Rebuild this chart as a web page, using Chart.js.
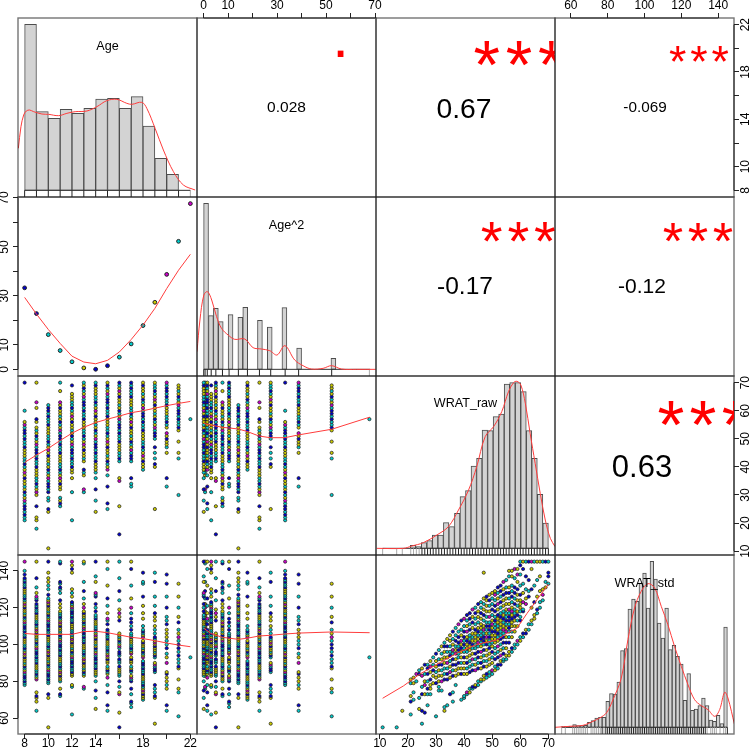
<!DOCTYPE html>
<html><head><meta charset="utf-8">
<script src="https://cdn.jsdelivr.net/npm/chart.js@4"></script>
<style>html,body{margin:0;padding:0;background:#fff;width:750px;height:750px;overflow:hidden}canvas{position:absolute}</style>
</head><body>
<script>
// ---------- data ----------
const ages=[8,9,10,11,12,13,14,15,16,17,18,19,20,21,22];
const agesSquared=[33.3,22.8,14.2,7.7,3.1,0.6,0.05,1.5,5,10.4,17.9,27.4,38.8,52.3,67.7];
const agesSquaredColors=['b','b','c','c','c','y','b','b','c','c','c','y','m','c','m'];

const rawByAge=[
[21,22,23,24,25,26,27,28,29,30,31,32,33,34,35,36,37,38,39,40,41,42,43,44,45,46,47,48,49,50,51,52,53,54,55,56,60,70],
[18,21,22,26,30,31,32,33,34,35,36,37,38,39,40,41,42,43,44,45,46,47,48,49,50,51,52,53,54,56,57,61,63,70],
[11,24,25,28,29,31,32,33,34,35,36,37,38,39,40,41,42,43,44,45,46,47,48,49,50,51,52,53,54,55,56,57,58,59,60,61,62],
[26,27,28,29,32,33,34,35,36,37,38,39,40,41,42,43,44,45,46,47,48,49,50,51,52,53,54,55,56,57,58,59,60,61,62,63,67,70],
[21,31,36,38,39,40,41,42,43,44,45,46,47,48,49,50,51,52,53,54,55,56,57,58,59,60,61,62,63,64,65,66,69],
[31,32,37,38,39,42,43,44,45,46,47,48,49,50,51,52,53,54,55,56,57,58,59,60,61,62,63,64,65,66,67,68,69,70],
[24,28,32,36,38,39,40,41,42,43,44,45,46,47,48,49,50,51,52,53,54,55,56,57,58,59,60,61,62,63,64,65,66,67,68,69,70],
[25,27,33,37,39,40,41,42,43,44,45,46,47,48,49,50,51,52,53,54,55,56,57,58,59,60,61,62,63,64,65,66,67,68,69,70],
[16,26,35,36,42,43,44,45,46,47,48,49,50,51,52,53,54,55,56,57,58,59,60,61,62,63,64,65,66,67,68,69,70],
[33,34,36,42,43,44,45,46,47,48,49,50,51,52,53,54,55,56,57,58,59,60,61,62,63,64,65,66,67,68,69,70],
[39,40,41,42,43,44,45,46,47,48,49,50,51,52,53,54,55,56,57,58,59,60,61,62,63,64,65,66,67,68,69,70],
[25,40,41,43,45,47,50,51,52,53,54,55,56,57,58,59,60,61,62,63,64,65,66,67,68,69,70],
[33,36,45,47,48,49,50,51,52,54,55,56,57,58,59,60,61,62,63,64,65,66,67,68,69,70],
[30,43,45,49,53,54,55,56,57,58,59,60,61,62,63,64,65,66,67,68,69],
[57]];

const stdByAge=[
[78,79,80,81,82,83,84,85,86,87,88,89,90,91,92,93,94,95,96,97,98,99,100,101,102,103,104,105,106,107,108,109,110,111,112,113,114,115,116,117,118,119,120,121,122,123,124,125,126,127,128,129,130,131,132,133,134,135,136,138,140,145],
[64,69,71,72,74,81,82,83,84,85,86,87,88,89,90,91,92,93,94,95,96,97,98,99,100,101,102,103,104,105,106,107,108,109,110,111,112,113,114,115,116,117,118,119,120,121,122,124,125,126,128,131,136,145],
[55,71,73,79,80,81,82,83,84,85,86,87,88,89,90,91,92,93,94,95,96,97,98,99,100,101,102,103,104,105,106,107,108,109,110,111,112,113,114,115,116,117,118,119,120,121,122,123,124,125,127,130,132,134,136,139,145],
[72,73,76,80,81,82,83,84,85,86,87,88,89,90,91,92,93,94,95,96,97,98,99,100,101,102,103,104,105,106,107,108,109,110,111,112,113,114,115,116,117,118,120,122,124,128,130,131,133,134,144,145],
[62,77,78,83,84,85,86,87,88,89,90,91,92,93,94,95,96,97,98,99,100,101,102,103,104,105,106,107,108,109,110,111,112,113,114,115,116,117,118,119,120,121,122,123,126,128,130,139,141,143,145],
[76,77,83,84,85,86,87,88,89,90,91,92,93,94,95,96,97,98,99,100,101,102,103,104,105,106,107,108,109,110,111,112,113,114,115,116,117,118,120,122,125,129,134,144,145],
[65,71,75,80,83,84,85,86,87,88,89,90,91,92,93,94,95,96,97,98,99,100,101,102,103,104,105,106,107,108,109,110,111,112,113,114,115,116,118,120,122,126,127,128,134,137,145],
[64,67,74,78,82,84,85,86,87,88,90,91,92,93,94,95,96,97,98,99,100,101,102,103,104,105,106,107,108,111,113,114,117,121,125,132,141,145],
[55,63,73,74,77,80,83,84,85,86,87,88,90,91,92,94,95,96,98,99,100,101,102,103,104,105,106,113,115,117,119,124,129,136,145],
[66,68,69,73,76,80,81,82,83,85,86,87,88,90,91,92,93,95,96,97,98,99,100,101,102,103,104,105,106,108,110,112,114,117,120,125,132,141,145],
[70,71,72,73,74,75,76,77,78,79,80,81,82,83,84,85,86,87,88,89,90,91,93,94,95,96,97,98,99,100,101,102,104,105,106,107,108,110,114,117,121,126,133,134,139],
[57,71,72,74,76,78,85,86,87,88,89,90,93,94,95,96,97,98,99,100,101,102,103,104,106,108,110,113,115,117,121,126,134,139],
[64,67,76,78,80,82,84,85,90,93,95,98,100,102,104,106,108,111,113,115,120,126,133,138],
[61,74,76,81,87,88,90,92,94,96,98,100,102,104,106,108,112,115,120,126,133],
[93]];

const rawColumns=[11,16,18,21,22,23,24,25,26,27,28,29,30,31,32,33,34,35,36,37,38,39,40,41,42,43,44,45,46,47,48,49,50,51,52,53,54,55,56,57,58,59,60,61,62,63,64,65,66,67,68,69,70];
const stdByRaw=[
[55],[55],[64],
[62,69,72,79,81],[70,74,79,82],[80,84],[65,71,84,86],
[57,64,73,77,83,87],[63,73,78,80,84,89],[67,73,76,80,84,87,89],[73,76,78,81,85,88,91],[79,83,86,89,93],
[61,79,82,85,88,91,95],[75,77,80,83,86,89,92,97],[75,80,83,86,89,92,95,99],[64,66,81,84,87,90,93,96,99,101],
[67,81,84,87,90,93,96,99,103],[73,82,85,88,91,94,96,99,102,105],[69,74,83,86,89,92,95,97,100,103,107],[78,83,86,89,92,95,97,99,102,105,109],
[84,87,90,93,95,97,99,101,104,107,111],[70,84,87,90,93,96,98,100,102,105,108,113],[71,72,84,87,90,93,96,98,100,102,104,107,110,114],[73,74,84,87,90,93,96,98,100,102,104,107,110,113,116],
[74,76,85,88,91,94,97,99,101,103,105,108,111,114,117],[76,77,86,89,92,95,98,100,102,104,106,109,112,115,119],[77,78,86,89,92,95,98,100,102,104,106,108,111,114,117,120],
[78,80,87,90,93,96,99,101,103,105,107,109,112,115,118,122],[80,81,87,90,93,96,99,101,103,105,107,109,111,114,117,120,123],[81,83,88,91,94,97,100,102,104,106,108,110,113,116,119,122,125,139],
[82,84,88,91,94,97,100,102,104,106,108,110,112,115,118,121,124,126],[83,85,89,92,95,98,100,102,104,106,108,110,112,115,118,121,124,127],[84,86,90,93,96,99,101,103,105,107,109,111,113,116,119,122,125,128],
[86,88,92,95,98,101,103,105,107,109,111,113,115,118,121,124,127,129],[87,89,93,96,99,102,104,106,108,110,112,114,116,119,122,125,128,131],[89,91,94,97,100,103,105,107,109,111,113,115,117,120,123,126,129,132],
[91,92,95,98,101,104,106,108,110,112,114,116,118,121,124,127,130,134],[92,94,98,101,104,107,109,111,113,115,117,119,122,125,128,131,135],[94,96,101,104,107,109,111,113,115,117,119,122,125,128,131,137,140],
[96,98,104,107,110,112,114,116,118,120,123,126,129,132,137,140],[98,100,107,110,113,115,117,119,122,125,128,131,136,141],[100,102,110,113,116,118,121,124,127,130,134,138,141],
[102,104,113,115,118,120,122,124,127,132,138,143,145],[104,106,118,119,123,128,133,141,145],[106,108,122,125,130,137,145],[108,111,126,129,135,145],
[111,113,120,130,141,145],[114,116,123,132,145],[117,119,126,135,145],[120,123,129,137,145],[124,127,130,145],[131,134,145],[133,137,139,145]];

const ageBinCenters=[8.5,9.5,10.5,11.5,12.5,13.5,14.5,15.5,16.5,17.5,18.5,19.5,20.5,21.5];
const ageBinCounts=[498,236,216,243,231,246,274,276,246,281,193,96,48,1];
const ageDensityX=[7.47,7.69,7.92,8.14,8.42,8.76,9.46,10.02,10.87,11.57,12.27,13.26,14.1,14.94,15.79,16.63,17.05,17.9,18.32,19.02,19.72,20.57,21.41,22.4];
const ageDensityY=[126,191,226,238,241,236,229,228,224,231,236,238,251,269,273,261,258,264,246,186,121,56,16,1];

const age2BinCenters=[1,3,5,7,9,11,13,15,17,19,21,23,25,27,29,31,33,35,37,39,41,43,45,47,49,51,53,55,57,59,61,63,65,67];
const age2BinCounts=[498,161,183,143,0,164,0,156,186,0,0,147,0,127,0,0,185,0,0,64,0,0,0,0,0,0,33,0,0,0,0,0,0,0];
const age2DensityX=[-2.7,-1.5,0.1,1.6,3.3,5.3,7.3,10,12.7,16.8,20.2,23.6,27,30,33.2,37.2,40.6,44,48.8,52.2,56.3,62.4,70.3];
const age2DensityY=[53,148,223,233,208,158,123,103,90,91,65,61,56,43,71,28,11,1,3,11,1,0,0];

const rawBinCenters=[11.98,13.95,15.92,17.88,19.85,21.82,23.78,25.75,27.72,29.68,31.65,33.62,35.58,37.55,39.52,41.48,43.45,45.42,47.38,49.35,51.32,53.28,55.25,57.22,59.18,61.15,63.12,65.08,67.05,69.02];
const rawBinCounts=[0,0,0,0,0,9,5,17,23,40,40,77,65,105,155,173,247,270,355,353,395,403,493,497,497,470,353,270,162,76];
const rawDensityX=[8.9,18.4,21.4,25.5,30.3,34.4,38,41.6,44.5,47.5,50.5,53.4,55.8,57.6,58.8,60.2,61.8,63.5,65.3,67.1,68.9,70.7,72.4];
const rawDensityY=[0,0,7,17,40,65,115,175,245,335,365,410,470,497,501,490,435,345,255,165,85,30,5];

const stdBinCenters=[56,58,60,62,64,66,68,70,72,74,76,78,80,82,84,86,88,90,92,94,96,98,100,102,104,106,108,110,112,114,116,118,120,122,124,126,128,130,132,134,136,138,140,142,144];
const stdBinCounts=[3,2,4,8,5,5,6,15,20,28,30,30,78,101,100,136,230,236,355,385,378,433,463,358,498,445,313,268,358,233,246,213,190,81,161,51,55,65,88,65,22,18,36,11,301];
const stdDensityX=[51.2,59.4,66.6,72,75.6,79.3,82.9,87.4,91,94.6,98.2,101.9,105.5,109.1,112.7,116.3,120,123.6,127.2,130.8,134.5,138.1,140.8,143.5,145.3,148.9];
const stdDensityY=[0,3,6,18,28,43,83,148,263,358,408,431,418,363,308,243,183,128,83,65,53,33,53,105,88,8];

const rawRugLight=[11,16,18,21,22,23,24];
const rawRugDark=[25,26,27,28,29,30,31,32,33,34,35,36,37,38,39,40,41,42,43,44,45,46,47,48,49,50,51,52,53,54,55,56,57,58,59,60,61,62,63,64,65,66,67,68,69,70];
const stdRugLight=[55,57,61,62,63,64,65,66,67,68,69,71,72,73,74,75,76,78,134,136,137,138,139,141,143,144];
const stdRugDark=[77,79,80,81,82,83,84,85,86,87,88,89,90,91,92,93,94,95,96,97,98,99,100,101,102,103,104,105,106,107,108,109,110,111,112,113,114,115,116,117,118,119,120,121,122,123,124,125,126,127,128,129,130,131,132,133,145];

const fitAge2OnAge=[29.4,22.6,16.3,10.6,5.4,3,2.3,3.7,7.1,12.2,18.1,24.9,33,40.5,47];
const fitRawOnAge=[41.6,44.2,46.6,49.4,52,54.1,55.8,57,58.1,59.3,60,60.9,61.8,62.6,63.3];
const fitStdOnAge=[106,105.5,105.5,105.5,105.5,107,107.2,106.4,105.2,103.9,103.2,102.1,100.8,99.7,98.8];
const fitX2=[0.1,3,7.6,14.2,17.8,22.6,27.2,33.2,38.8,52.3,67.8];
const fitRawOnAge2=[55.5,54.9,54.1,53.5,52.6,51,50.4,50.4,51.4,53.4,57.7];
const fitStdOnAge2=[108.8,106,103.9,102.8,103.4,104.6,105,105.7,106.2,106.8,106.4];
const fitRawX=[11,18.4,24.3,30.3,37.4,44.5,51.6,55.2,58.8,62.4,65.9,70];
const fitStdOnRaw=[70.8,77.5,84,89.2,95.2,100.1,102.4,106,108.8,116.9,124.2,132.7];

const ageTicks=[8,10,12,14,16,18,20,22];
const age2Ticks=[0,10,20,30,40,50,60,70];
const rawTicks=[10,20,30,40,50,60,70];
const stdTicks=[60,80,100,120,140];
const ageLabelsBottom=[8,10,12,14,18,22];
const ageLabelsRight=[8,10,14,18,22];
const age2Labels=[0,10,30,50,70];

// ---------- layout and style ----------
const GX=[18,197,376,555,734], GY=[18,197,376,555,734];
const domains=[[7.44,22.56],[-2.7,70.4],[8.64,72.36],[51.4,148.6]];
const histDomain=[-20,517];
const FONT='"Liberation Sans", Arial, sans-serif';
const RED_LINE='#ff3c3c';
const PALETTE={b:'#0000cd',c:'#00cdcd',y:'#cdcd00',m:'#cd00cd'};
const COLOR_CYCLE='cbycybycbcymcybcbyycbcmybcy'.split('');
function dotColor(col,i){return PALETTE[COLOR_CYCLE[(i*7+col*3)%COLOR_CYCLE.length]];}

Chart.defaults.animation=false;
Chart.defaults.font.family=FONT;

const panelTextPlugin={id:'panelText',afterDraw(chart,args,opts){
  const a=chart.chartArea,c=chart.ctx;
  c.save();
  c.lineWidth=1.4;c.strokeStyle='rgba(30,30,30,.62)';
  c.strokeRect(a.left,a.top,a.right-a.left,a.bottom-a.top);
  for(const id of Object.keys(chart.scales)){
    const s=chart.scales[id];
    if(!s.options.display)continue;
    const v=s.ticks.map(t=>t.value),p0=s.getPixelForValue(v[0]),p1=s.getPixelForValue(v[v.length-1]);
    c.beginPath();c.lineWidth=1;c.strokeStyle='#222';
    if(s.isHorizontal()){const y=s.position==='top'?a.top:a.bottom;c.moveTo(p0,y);c.lineTo(p1,y);}
    else{const x=s.position==='left'?a.left:a.right;c.moveTo(x,p0);c.lineTo(x,p1);}
    c.stroke();
  }
  c.restore();
  c.save();
  c.beginPath();c.rect(a.left,a.top,a.right-a.left,a.bottom-a.top);c.clip();
  for(const t of (opts.items||[])){
    c.font=t.size+'px '+FONT;c.fillStyle=t.color||'#000';c.textAlign='center';
    c.textBaseline=t.base||'middle';
    c.letterSpacing=(t.spacing||0)+'px';
    c.fillText(t.text,a.left+t.x-GX[opts.col]+(t.spacing||0)/2,a.top+t.y-GY[opts.row]);
  }
  c.restore();
}};

function axis(kind,domain,tickVals,labelVals,side,pad,thick){
  const horiz=kind==='x';
  const o={type:'linear',min:domain[0],max:domain[1],display:!!side,offset:false,
    grid:{display:!!side,drawOnChartArea:false,drawTicks:true,tickLength:5,tickColor:'#222',tickWidth:1,offset:false},
    border:{display:false}};
  if(side){
    o.position=side;
    o.ticks={autoSkip:false,padding:pad,color:'#000',font:{size:12,family:FONT},
      callback:v=>labelVals.includes(v)?String(v):''};
    if(horiz){o.ticks.maxRotation=0;o.ticks.minRotation=0;}
    else{o.ticks.minRotation=90;o.ticks.maxRotation=90;o.ticks.crossAlign='center';}
    o.afterBuildTicks=s=>{s.ticks=tickVals.map(v=>({value:v}));};
    o.afterFit=s=>{if(horiz)s.height=thick;else s.width=thick;};
  }
  return o;
}

const M=12,TOP=18,BOTTOM=16,LEFT=18,RIGHT=16;
function panel(row,col,cfg){
  const xs=cfg.xAxis,ys=cfg.yAxis;
  const pl=ys&&ys.side==='left'?LEFT:M, pr=ys&&ys.side==='right'?RIGHT:M;
  const pt=xs&&xs.side==='top'?TOP:M, pb=xs&&xs.side==='bottom'?BOTTOM:M;
  const w=GX[col+1]-GX[col], h=GY[row+1]-GY[row];
  const cv=document.createElement('canvas');
  cv.width=w+pl+pr;cv.height=h+pt+pb;
  cv.style.left=(GX[col]-pl)+'px';cv.style.top=(GY[row]-pt)+'px';
  cv.style.width=cv.width+'px';cv.style.height=cv.height+'px';
  document.body.appendChild(cv);
  const xd=domains[col], yd=cfg.yDomain||domains[row];
  new Chart(cv,{type:cfg.type||'scatter',data:{datasets:cfg.datasets||[]},plugins:[panelTextPlugin],
    options:{responsive:false,maintainAspectRatio:false,animation:false,
      layout:{autoPadding:false,padding:{left:ys&&ys.side==='left'?0:M,right:ys&&ys.side==='right'?0:M,top:xs&&xs.side==='top'?0:M,bottom:xs&&xs.side==='bottom'?0:M}},
      plugins:{legend:{display:false},tooltip:{enabled:false},panelText:{items:cfg.text||[],row,col}},
      scales:{
        x:xs?axis('x',xd,xs.ticks,xs.labels,xs.side,xs.pad,xs.side==='top'?TOP:BOTTOM):axis('x',xd),
        y:ys?axis('y',yd,ys.ticks,ys.labels,ys.side,ys.pad,ys.side==='left'?LEFT:RIGHT):axis('y',yd)
      }}});
}

function zip(xs,ys){return xs.map((x,i)=>({x,y:ys[i]}));}
function curve(xs,ys,tension){return {type:'line',data:zip(xs,ys),borderColor:RED_LINE,borderWidth:1,pointRadius:0,showLine:true,fill:false,tension:tension||0};}
function dots(points,colors,radius,bw){return {type:'scatter',data:points,pointRadius:radius||1.6,pointBorderWidth:bw||0.75,pointBorderColor:'#222',pointBackgroundColor:colors,showLine:false};}
function rug(vals,y,color){return {type:'line',showLine:false,data:vals.map(x=>({x,y})),pointStyle:'line',pointRotation:90,pointRadius:3.3,pointBorderWidth:1,pointBorderColor:color};}
function baseLine(a,b){return {type:'line',data:[{x:a,y:0},{x:b,y:0}],borderColor:'#333',borderWidth:1,pointRadius:0,showLine:true};}
function bars(xs,ys){return {type:'bar',data:zip(xs,ys),backgroundColor:'#d3d3d3',borderColor:'#4d4d4d',borderWidth:1,borderSkipped:false,barPercentage:1,categoryPercentage:1};}

function columnPoints(xValues,lists){
  const pts=[],cols=[];
  lists.forEach((list,col)=>list.forEach((v,i)=>{pts.push({x:xValues[col],y:v});cols.push(dotColor(col,i));}));
  return dots(pts,cols);
}
function hist(row,centers,counts,dx,dy,rugs,baseFrom,baseTo,label,tension){
  const ds=[curve(dx,dy,tension)].concat(rugs).concat([baseLine(baseFrom,baseTo),bars(centers,counts)]);
  panel(row,row,{type:'bar',yDomain:histDomain,datasets:ds,text:[label]});
}

const star=(x,base,size,spacing)=>({text:'***',x,y:base,size,spacing,color:'#ff0000',base:'alphabetic'});
const num=(text,x,y,size)=>({text,x,y,size});

// diagonal
hist(0,ageBinCenters,ageBinCounts,ageDensityX,ageDensityY,[rug(ages.slice(0,14),-10,'#222'),rug(ages.slice(14),-10,'#aaa')],8,22,{text:'Age',x:107.5,y:47,size:12.6},0.35);
hist(1,age2BinCenters,age2BinCounts,age2DensityX,age2DensityY,[rug(agesSquared.slice(0,14),-10,'#222'),rug(agesSquared.slice(14),-10,'#aaa')],0,68,{text:'Age^2',x:286.5,y:226,size:12.6},0.35);
hist(2,rawBinCenters,rawBinCounts,rawDensityX,rawDensityY,[rug(rawRugLight,-10,'#aaa'),rug(rawRugDark,-10,'#222')],11,70,{text:'WRAT_raw',x:465.5,y:404,size:12.6},0.35);
hist(3,stdBinCenters,stdBinCounts,stdDensityX,stdDensityY,[rug(stdRugLight,-10,'#aaa'),rug(stdRugDark,-10,'#222')],55,145,{text:'WRAT_std',x:644.5,y:584,size:12.6},0.35);

// upper triangle
panel(0,1,{xAxis:{side:'top',ticks:age2Ticks,labels:age2Labels,pad:0.4},text:[num('0.028',286.5,107.5,15.5),{text:'.',x:340.5,y:57,size:60,color:'#ff0000',base:'alphabetic'}]});
panel(0,2,{text:[num('0.67',464,110,28.3),star(519,88,68,5.85)]});
panel(0,3,{xAxis:{side:'top',ticks:stdTicks,labels:stdTicks,pad:0.4},yAxis:{side:'right',ticks:ageTicks,labels:ageLabelsRight,pad:0.3},text:[num('-0.069',645,107.5,15.3),star(699,76.5,44.7,3.8)]});
panel(1,2,{text:[num('-0.17',465,287,24.5),star(518.3,260,56,4.8)]});
panel(1,3,{text:[num('-0.12',642,287,21),star(698,259,52.5,4.6)]});
panel(2,3,{yAxis:{side:'right',ticks:rawTicks,labels:rawTicks,pad:0.3},text:[num('0.63',642,468,31),star(703,448,69,5.2)]});

// lower triangle
panel(1,0,{yAxis:{side:'left',ticks:age2Ticks,labels:age2Labels,pad:1.3},
  datasets:[curve(ages,fitAge2OnAge),dots(zip(ages,agesSquared),agesSquaredColors.map(k=>PALETTE[k]),1.9,1)]});
panel(2,0,{datasets:[curve(ages,fitRawOnAge),columnPoints(ages,rawByAge)]});
panel(2,1,{datasets:[curve(fitX2,fitRawOnAge2),columnPoints(agesSquared,rawByAge)]});
panel(3,0,{xAxis:{side:'bottom',ticks:ageTicks,labels:ageLabelsBottom,pad:-2.9},yAxis:{side:'left',ticks:stdTicks,labels:stdTicks,pad:-2},
  datasets:[curve(ages,fitStdOnAge),columnPoints(ages,stdByAge)]});
panel(3,1,{datasets:[curve(fitX2,fitStdOnAge2),columnPoints(agesSquared,stdByAge)]});
panel(3,2,{xAxis:{side:'bottom',ticks:rawTicks,labels:rawTicks,pad:-2.9},
  datasets:[curve(fitRawX,fitStdOnRaw),columnPoints(rawColumns,stdByRaw)]});
</script>
</body></html>
